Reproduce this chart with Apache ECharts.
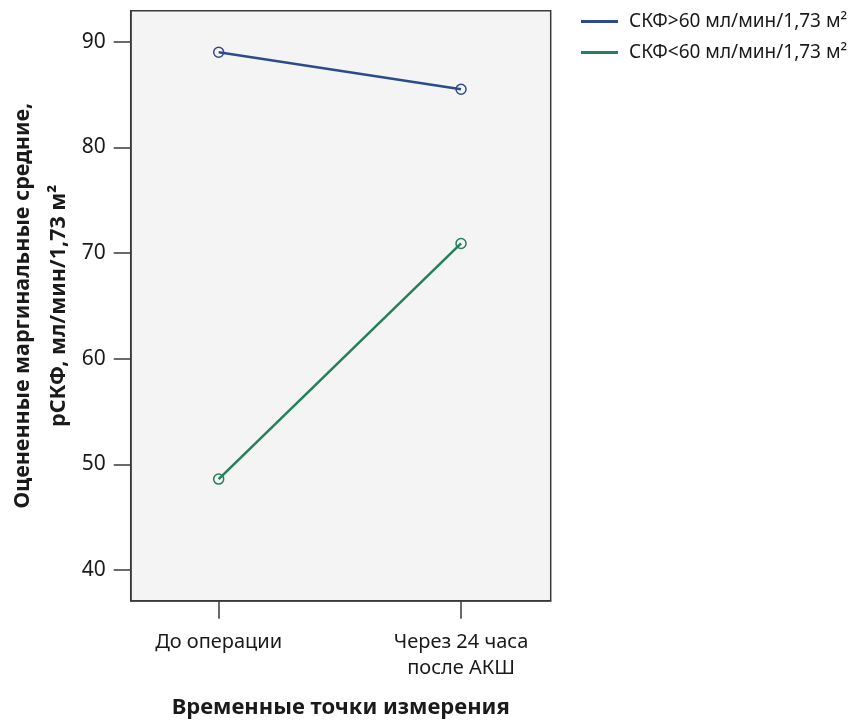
<!DOCTYPE html>
<html>
<head>
<meta charset="utf-8">
<script src="https://cdn.jsdelivr.net/npm/echarts@6/dist/echarts.min.js"></script>
<style>
  html, body { margin: 0; padding: 0; background: #ffffff; }
  #chart { width: 857px; height: 721px; }
</style>
</head>
<body>
<div id="chart"></div>
<script>
// Measurement time points (x positions 0 and 1 on the value axis)
const timePoints = ['До операции', 'Через 24 часа\nпосле АКШ'];
const timeIndex = [0, 1];

// Estimated marginal means of eGFR per group
const seriesNames = ['СКФ>60 мл/мин/1,73 м²', 'СКФ<60 мл/мин/1,73 м²'];
const gfrAbove60 = [89.0, 85.5];
const gfrBelow60 = [48.6, 70.9];

// Y axis tick labels
const yTicks = [40, 50, 60, 70, 80, 90];

const FONT = '"Noto Sans", "Open Sans", sans-serif';
const AXIS_COLOR = '#3a3a3a';
const TEXT_COLOR = '#1a1a1a';
const BLUE = '#2d4a8a';
const GREEN = '#23805a';
const colors = [BLUE, GREEN];

const toPairs = (vals) => vals.map((v, i) => [timeIndex[i], v]);

const makeSeries = (name, vals, color) => ({
  name: name,
  type: 'line',
  data: toPairs(vals),
  color: color,
  symbol: 'circle',
  symbolSize: 10,
  lineStyle: { width: 2.5, color: color },
  itemStyle: { color: 'rgba(0,0,0,0)', borderColor: color, borderWidth: 1.5 }
});

const chart = echarts.init(document.getElementById('chart'), null, { renderer: 'canvas' });

chart.setOption({
  animation: false,
  backgroundColor: '#ffffff',
  textStyle: { fontFamily: FONT },
  grid: {
    left: 130.7, top: 10.7, right: 306.3, bottom: 120.3,
    outerBoundsMode: 'none',
    containLabel: false,
    show: true,
    backgroundColor: '#f4f4f4',
    borderColor: AXIS_COLOR,
    borderWidth: 1.5
  },
  legend: {
    orient: 'vertical',
    left: 576,
    top: 7,
    itemWidth: 37,
    itemHeight: 3,
    itemGap: 12,
    icon: 'rect',
    textStyle: { fontFamily: FONT, fontSize: 19, color: TEXT_COLOR, padding: [0, 0, 0, 6] },
    data: seriesNames.map((n, i) => ({ name: n, itemStyle: { color: colors[i], borderWidth: 0 } }))
  },
  xAxis: {
    type: 'value',
    min: -0.363,
    max: 1.37,
    splitLine: { show: false },
    axisLine: { show: true, onZero: false, lineStyle: { color: AXIS_COLOR, width: 1.5 } },
    axisTick: { show: true, length: 18, customValues: timeIndex, lineStyle: { color: AXIS_COLOR, width: 1.5 } },
    axisLabel: {
      customValues: timeIndex,
      formatter: (v) => timePoints[Math.round(v)],
      margin: 29,
      fontFamily: FONT,
      fontSize: 20,
      lineHeight: 26,
      color: TEXT_COLOR
    },
    name: 'Временные точки измерения',
    nameLocation: 'middle',
    nameGap: 96,
    nameTextStyle: { fontFamily: FONT, fontSize: 22, fontWeight: 'bold', color: TEXT_COLOR }
  },
  yAxis: {
    type: 'value',
    min: 37.09,
    max: 92.93,
    splitLine: { show: false },
    axisLine: { show: true, onZero: false, lineStyle: { color: AXIS_COLOR, width: 1.5 } },
    axisTick: { show: true, length: 17, customValues: yTicks, lineStyle: { color: AXIS_COLOR, width: 1.5 } },
    axisLabel: {
      customValues: yTicks,
      margin: 25,
      fontFamily: FONT,
      fontSize: 21,
      color: TEXT_COLOR
    },
    name: 'Оцененные маргинальные средние,\nрСКФ, мл/мин/1,73 м²',
    nameLocation: 'middle',
    nameRotate: 90,
    nameGap: 53.5,
    nameTextStyle: { fontFamily: FONT, fontSize: 21.5, fontWeight: 'bold', color: TEXT_COLOR, lineHeight: 36 }
  },
  series: [
    makeSeries(seriesNames[0], gfrAbove60, BLUE),
    makeSeries(seriesNames[1], gfrBelow60, GREEN)
  ]
});
</script>
</body>
</html>
